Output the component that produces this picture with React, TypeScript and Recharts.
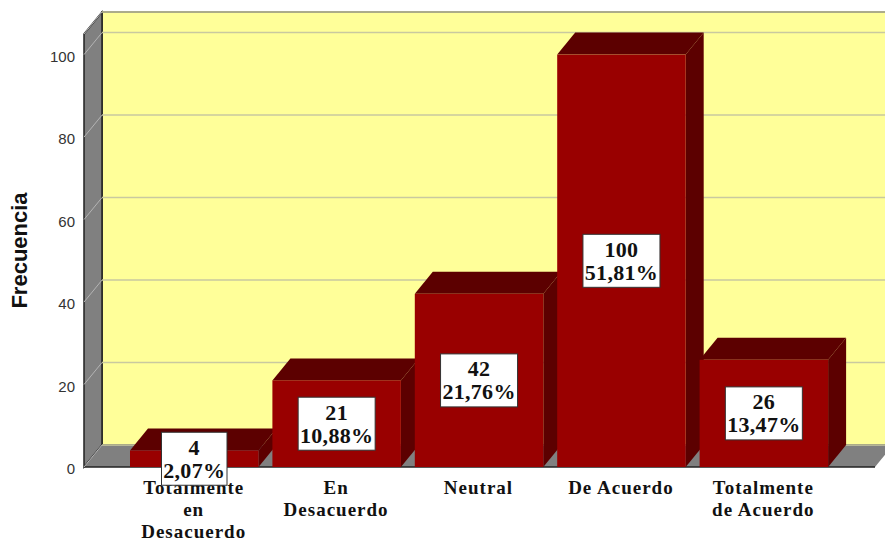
import { BarChart, Bar, XAxis, YAxis, CartesianGrid, LabelList, Label } from 'recharts';

const categories = ['Totalmente\nen\nDesacuerdo', 'En\nDesacuerdo', 'Neutral', 'De Acuerdo', 'Totalmente\nde Acuerdo'];
const frecuencia = [4, 21, 42, 100, 26];
const porcentaje = ['2,07%', '10,88%', '21,76%', '51,81%', '13,47%'];
const yTicks = [0, 20, 40, 60, 80, 100];

const data = categories.map((name, i) => ({ name, frecuencia: frecuencia[i], porcentaje: porcentaje[i] }));

const DX = 18;
const DY = 22;
const SERIF = '"Liberation Serif", serif';
const SANS = '"Liberation Sans", sans-serif';

// grid renders below everything else, so the 3D walls are painted with its first line
function Walls({ x, y, width, height }: any) {
  const r = x + width;
  const b = y + height;
  return (
    <g>
      <rect x={x + DX} y={y - DY} width={width} height={height} fill="#ffff99" stroke="#222" strokeWidth={1.5} />
      <polygon points={`${x},${y} ${x + DX},${y - DY} ${x + DX},${b - DY} ${x},${b}`} fill="#808080" stroke="#222" strokeWidth={1.5} />
      <polygon points={`${x},${b} ${x + DX},${b - DY} ${r + DX},${b - DY} ${r},${b}`} fill="#808080" />
      <line x1={x} y1={b} x2={r} y2={b} stroke="#222" strokeWidth={1.5} />
    </g>
  );
}

function gridLine(props: any) {
  const { x1, x2, y1, index } = props;
  return (
    <g key={`grid-${y1}`}>
      {index === 0 ? <Walls x={props.x} y={props.y} width={props.width} height={props.height} /> : null}
      <line x1={x1} y1={y1} x2={x1 + DX} y2={y1 - DY} stroke="#b4b4b4" strokeWidth={1} />
      <line x1={x1 + DX} y1={y1 - DY} x2={x2 + DX} y2={y1 - DY} stroke="#c9c9a0" strokeWidth={1.5} />
    </g>
  );
}

function Bar3D(props: any) {
  const { x, y, width, height } = props;
  const d = '#5c0000';
  return (
    <g>
      <polygon points={`${x},${y} ${x + DX},${y - DY} ${x + width + DX},${y - DY} ${x + width},${y}`} fill={d} />
      <polygon points={`${x + width},${y} ${x + width + DX},${y - DY} ${x + width + DX},${y + height - DY} ${x + width},${y + height}`} fill={d} />
      <rect x={x} y={y} width={width} height={height} fill="#990000" />
    </g>
  );
}

function ValueBox(props: any) {
  const { x, y, width, height, index } = props;
  const cx = x + width / 2;
  const cy = y + height / 2;
  const text = porcentaje[index];
  const w = text.length * 11.5 + 8;
  return (
    <g>
      <rect x={cx - w / 2} y={cy - 26.5} width={w} height={53} fill="#fff" stroke="#333" strokeWidth={1} />
      <text x={cx} y={cy - 4} textAnchor="middle" fontFamily={SERIF} fontSize={22} fontWeight="bold" fill="#111" letterSpacing={0.3}>{frecuencia[index]}</text>
      <text x={cx} y={cy + 19} textAnchor="middle" fontFamily={SERIF} fontSize={22} fontWeight="bold" fill="#111" letterSpacing={0.3}>{text}</text>
    </g>
  );
}

function CategoryTick(props: any) {
  const { x, payload } = props;
  const lines = String(payload.value).split('\n');
  return (
    <text textAnchor="middle" fontFamily={SERIF} fontSize={19} fontWeight="bold" fill="#111" letterSpacing={1}>
      {lines.map((t, i) => (
        <tspan key={i} x={x - 0.5} y={494 + i * 22}>{t}</tspan>
      ))}
    </text>
  );
}

export default function App() {
  return (
    <div style={{ position: 'absolute', left: 0, top: 0, width: 885, height: 539, overflow: 'hidden' }}>
      <BarChart width={885} height={539} data={data} margin={{ top: 34, right: 10, bottom: 0, left: 0 }} barSize={128.5}>
        <CartesianGrid vertical={false} horizontal={gridLine} />
        <XAxis
          dataKey="name"
          height={72}
          padding={{ left: 39, right: 40 }}
          interval={0}
          tick={<CategoryTick />}
          tickLine={false}
          axisLine={false}
        />
        <YAxis
          width={84}
          domain={[0, 105]}
          ticks={yTicks}
          tickLine={false}
          axisLine={false}
          tickMargin={3}
          tick={{ fill: '#333', fontSize: 15, fontFamily: SANS, dy: 2 }}
        >
          <Label value="Frecuencia" angle={-90} position="insideLeft" offset={19} style={{ fontFamily: SANS, fontSize: 22, fontWeight: 'bold', fill: '#111', textAnchor: 'middle' }} />
        </YAxis>
        <Bar dataKey="frecuencia" shape={<Bar3D />} isAnimationActive={false}>
          <LabelList dataKey="frecuencia" content={<ValueBox />} />
        </Bar>
      </BarChart>
    </div>
  );
}
